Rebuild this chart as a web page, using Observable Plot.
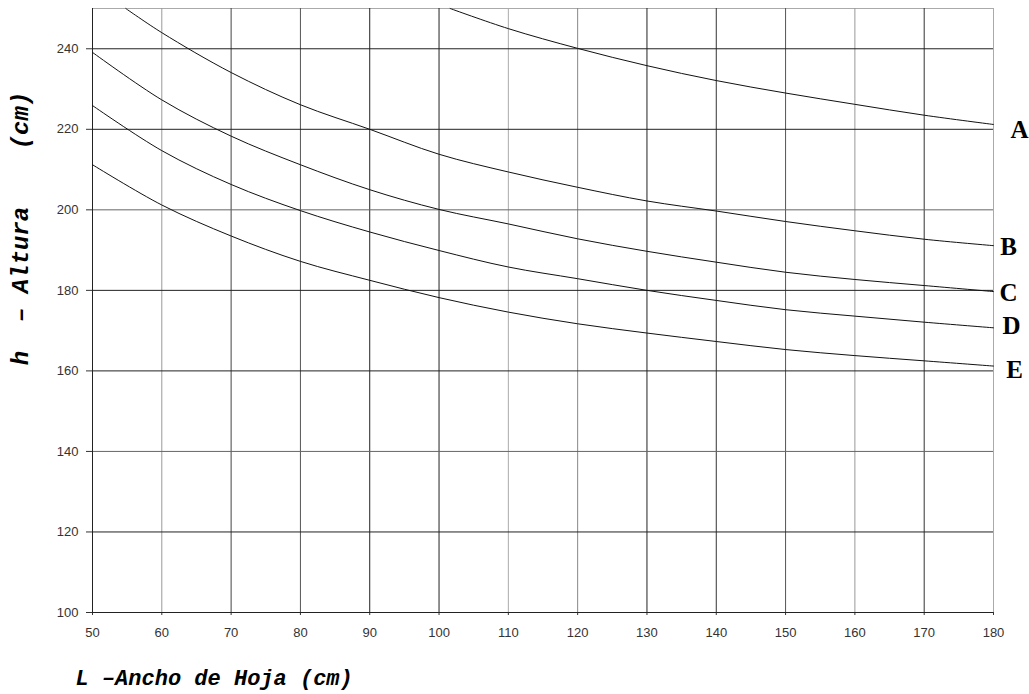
<!DOCTYPE html>
<html>
<head>
<meta charset="utf-8">
<script src="https://cdn.jsdelivr.net/npm/d3@7"></script>
<script src="https://cdn.jsdelivr.net/npm/@observablehq/plot@0.6"></script>
<style>
  html, body { margin: 0; padding: 0; background: #fff; }
  #chart svg { display: block; }
  #chart svg text { white-space: pre; }
</style>
</head>
<body>
<div id="chart"></div>
<script>
// ---- Data ----
const curveNames = ["A", "B", "C", "D", "E"];

const widthsA = [101.6, 110, 120, 130, 140, 150, 160, 170, 180];
const heightsA = [250, 245.0, 240.1, 235.8, 232.1, 229.0, 226.2, 223.5, 221.2];

const widthsB = [54.8, 60, 70, 80, 90, 100, 110, 120, 130, 140, 150, 160, 170, 180];
const heightsB = [250, 244.0, 234.1, 226.1, 220.0, 213.8, 209.4, 205.6, 202.2, 199.7, 197.1, 194.8, 192.7, 191.1];

const widthsCDE = [50, 60, 70, 80, 90, 100, 110, 120, 130, 140, 150, 160, 170, 180];
const heightsC = [239.1, 227.3, 218.3, 211.2, 205.0, 200.1, 196.5, 192.8, 189.7, 187.0, 184.5, 182.7, 181.2, 179.7];
const heightsD = [225.9, 214.7, 206.3, 199.8, 194.5, 189.9, 185.8, 182.9, 180.0, 177.5, 175.2, 173.6, 172.1, 170.7];
const heightsE = [211.2, 201.2, 193.5, 187.2, 182.5, 178.2, 174.6, 171.7, 169.4, 167.3, 165.3, 163.8, 162.5, 161.2];

const xTicks = [50, 60, 70, 80, 90, 100, 110, 120, 130, 140, 150, 160, 170, 180];
const yTicks = [100, 120, 140, 160, 180, 200, 220, 240];

const xTitle = "L \u2013Ancho de Hoja (cm)";
const yTitle = "h  \u2013 Altura    (cm)";

// ---- Styles (not data) ----
const xGridColor = {50:"#222",60:"#999",70:"#444",80:"#555",90:"#222",100:"#222",110:"#aaa",120:"#888",130:"#222",140:"#333",150:"#555",160:"#999",170:"#333",180:"#aaa"};
const yGridColor = {100:"#222",120:"#222",140:"#666",160:"#222",180:"#222",200:"#666",220:"#222",240:"#222"};
const labelOffset = {A:[26,6], B:[15,1], C:[15,1], D:[18,-2], E:[21,4]};

// ---- Build tables ----
const series = [
  ["A", widthsA, heightsA],
  ["B", widthsB, heightsB],
  ["C", widthsCDE, heightsC],
  ["D", widthsCDE, heightsD],
  ["E", widthsCDE, heightsE]
];
const points = series.flatMap(([name, xs, ys]) => xs.map((x, i) => ({name, L: x, h: ys[i]})));
const ends = series.map(([name, xs, ys]) => ({name, L: xs[xs.length - 1], h: ys[ys.length - 1]}));

const chart = Plot.plot({
  width: 1029,
  height: 694,
  marginLeft: 92,
  marginRight: 36,
  marginTop: 8,
  marginBottom: 82,
  style: {fontFamily: "'Liberation Sans', Arial, sans-serif", background: "#fff", overflow: "visible"},
  x: {domain: [50, 180]},
  y: {domain: [100, 250]},
  marks: [
    // top border
    Plot.ruleY([250], {stroke: "#aaa", strokeWidth: 1}),
    // grid
    Plot.ruleX(xTicks, {stroke: d => xGridColor[d], strokeWidth: 1}),
    Plot.ruleY(yTicks, {stroke: d => yGridColor[d], strokeWidth: 1}),
    // axes
    Plot.axisY({ticks: yTicks, tickSize: 6, tickPadding: 8, fontSize: 13, color: "#333", label: null, tickFormat: d => String(d)}),
    Plot.axisX({ticks: xTicks, tickSize: 3, tickPadding: 12, fontSize: 13, color: "#333", label: null, tickFormat: d => String(d)}),
    Plot.ruleX([50], {stroke: "#222"}),
    Plot.ruleY([100], {stroke: "#222"}),
    // curves
    Plot.line(points, {x: "L", y: "h", z: "name", curve: "catmull-rom", stroke: "#111", strokeWidth: 1}),
    // curve labels
    ...ends.map(e => Plot.text([e], {
      x: "L", y: "h", text: "name",
      dx: labelOffset[e.name][0], dy: labelOffset[e.name][1],
      fontFamily: "'Liberation Serif', 'DejaVu Serif', serif",
      fontWeight: "bold", fontSize: 25, fill: "#000", textAnchor: "middle"
    })),
    // axis titles
    Plot.text([xTitle], {
      frameAnchor: "bottom-left", text: d => d, textAnchor: "start",
      dx: -17, dy: 72,
      fontFamily: "'Liberation Mono', 'Courier New', monospace",
      fontWeight: "bold", fontStyle: "italic", fontSize: 22, fill: "#000"
    }),
    Plot.text([yTitle], {
      frameAnchor: "left", text: d => d, rotate: -90, textAnchor: "middle",
      dx: -72, dy: -82,
      fontFamily: "'Liberation Mono', 'Courier New', monospace",
      fontWeight: "bold", fontStyle: "italic", fontSize: 24, fill: "#000"
    })
  ]
});
document.getElementById("chart").appendChild(chart);
</script>
</body>
</html>
